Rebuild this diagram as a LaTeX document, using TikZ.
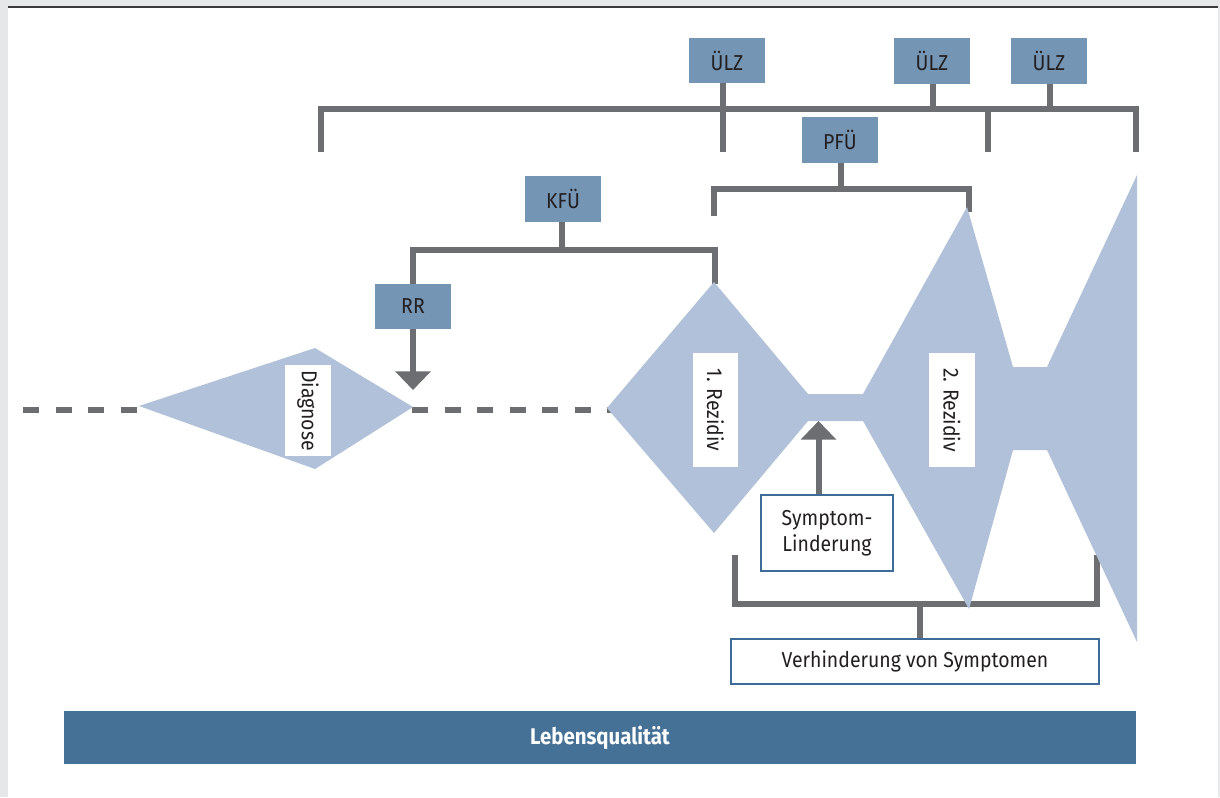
\documentclass[tikz,border=0pt]{standalone}
\usepackage{fontspec}
\setmainfont{Fira Sans}[FakeStretch=0.9]
\usetikzlibrary{arrows.meta}
\definecolor{bggray}{HTML}{E6E7E8}
\definecolor{topline}{HTML}{3A3A3C}
\definecolor{linegray}{HTML}{6D6E71}
\definecolor{boxblue}{HTML}{7595B5}
\definecolor{shapeblue}{HTML}{B0C1D9}
\definecolor{barblue}{HTML}{467196}
\definecolor{borderblue}{HTML}{3E6C98}
\definecolor{txt}{HTML}{231F20}
\tikzset{
  lbl/.style={font=\fontsize{16.2}{19.5}\selectfont, text=txt, inner sep=0pt, align=center},
  tbox/.style={lbl, fill=boxblue, minimum width=57pt, minimum height=34pt},
  rotbox/.style={lbl, fill=white, rotate=-90, minimum width=85.5pt, minimum height=34pt},
  wbox/.style={lbl, fill=white, draw=borderblue, line width=0.8pt},
  conn/.style={draw=linegray, line width=4.5pt},
  arr/.style={conn, -{Triangle[width=26pt,length=14pt]}, color=linegray},
  dashline/.style={conn, dash pattern=on 12pt off 12.4pt},
}
\begin{document}
\begin{tikzpicture}[x=0.75pt,y=-0.75pt]
\useasboundingbox (0,0) rectangle (1220,797);
\fill[bggray] (0,0) rectangle (1220,797);
\fill[white] (8,8) rectangle (1218,797);
\draw[topline, line width=1.5pt] (8,7) -- (1218,7);

% boxes
\node[tbox] (ulz1) at (727,60.5) {ÜLZ};
\node[tbox] (ulz2) at (932,61) {ÜLZ};
\node[tbox] (ulz3) at (1049,61) {ÜLZ};
\node[tbox] (pfu) at (840,140) {PFÜ};
\node[tbox] (kfu) at (563,199) {KFÜ};
\node[tbox] (rr) at (413,306.5) {RR};

% coordinates
\coordinate (tl) at (321,152);
\coordinate (tr) at (1136,152);
\coordinate (t1) at (723,152);
\coordinate (t2) at (987.5,152);
\coordinate (pl) at (714,216);
\coordinate (pr) at (969,212);
\coordinate (kl) at (413,284);
\coordinate (kr) at (715,284);
\coordinate (bl) at (734.5,555);
\coordinate (br) at (1096.5,555);
\coordinate (rrtip) at (413,390);
\coordinate (sltip) at (818.5,421);
\coordinate (d1a) at (23,409.5);
\coordinate (d1b) at (150,409.5);
\coordinate (d2a) at (412,409.5);
\coordinate (d2b) at (612,409.5);

% top bracket
\draw[conn] (tl) -- (321,108.5) -- (1136,108.5) -- (tr);
\draw[conn] (ulz1.south -| t1) -- (t1);
\draw[conn] (t2 |- 0,108.5) -- (t2);
\draw[conn] (ulz2.south -| 932.5,0) -- (932.5,108.5);
\draw[conn] (ulz3.south -| 1050,0) -- (1050,108.5);

% PFU bracket
\draw[conn] (pfu.south -| 841,0) -- (841,189);
\draw[conn] (pl) -- (714,189) -- (969,189) -- (pr);

% KFU bracket
\draw[conn] (kfu.south -| 561.5,0) -- (561.5,250);
\draw[conn] (kl) -- (413,250) -- (715,250) -- (kr);

% RR arrow
\draw[arr] (rr.south) -- (rrtip);

% dashed time line
\draw[dashline] (d1a) -- (d1b);
\draw[dashline] (d2a) -- (d2b);

% bottom bracket
\draw[conn] (bl) -- (734.5,604) -- (1096.5,604) -- (br);

% shapes
\fill[shapeblue] (139,406) -- (315,348) -- (413,407) -- (315,469) -- cycle;
\fill[shapeblue] (714,282) -- (607,408) -- (714,533) -- (808,421) -- (863,421)
  -- (969,609) -- (1013,450) -- (1047,450) -- (1137,642) -- (1137,175)
  -- (1047,367) -- (1013,367) -- (967,207) -- (863,394) -- (808,394) -- cycle;

% rotated labels
\node[rotbox, minimum width=68pt] (diag) at (308,410.5) {Diagnose};
\node[rotbox] (rez1) at (715.5,410) {1. Rezidiv};
\node[rotbox] (rez2) at (952,410) {2. Rezidiv};

% lower boxes
\node[wbox, minimum width=99pt, minimum height=57pt] (sym) at (827,533) {Symptom-\\Linderung};
\node[wbox, minimum width=276pt, minimum height=33.75pt] (verh) at (915,661.5) {Verhinderung von Symptomen};
\draw[arr] (sym.north -| sltip) -- (sltip);
\draw[conn] (920,604) -- (verh.north -| 920,0);

% bar
\node[fill=barblue, minimum width=804pt, minimum height=39.75pt, inner sep=0pt,
  text=white, font=\fontsize{17}{20}\selectfont\bfseries] (lq) at (600,737.5) {Lebensqualität};
\end{tikzpicture}
\end{document}
